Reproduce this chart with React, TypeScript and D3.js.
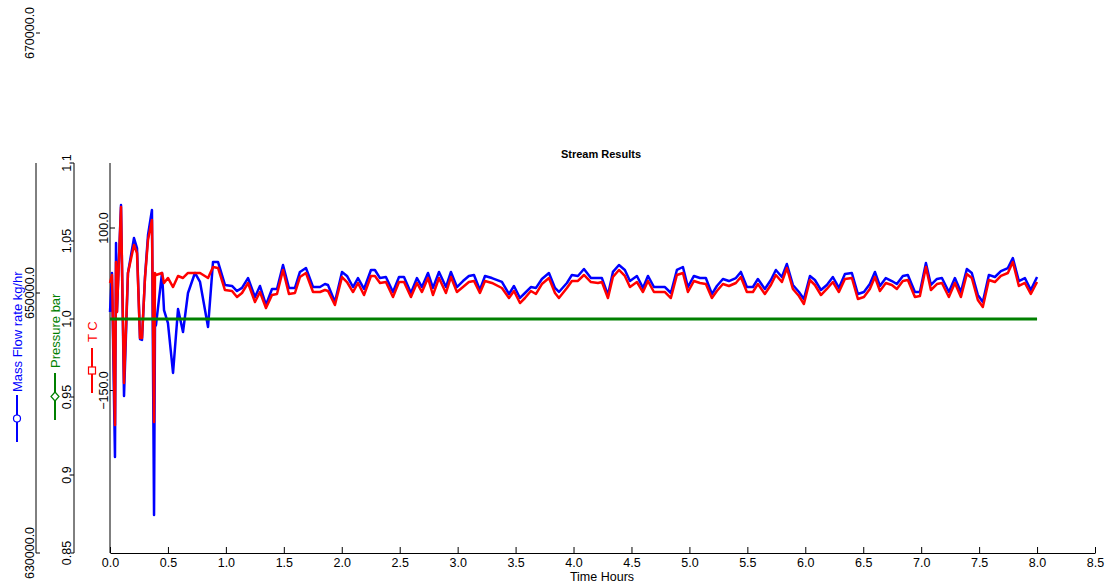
import React, { useEffect, useRef } from "react";
import * as d3 from "d3";

// time in hours
const times = [
  0, 0.017, 0.043, 0.052, 0.06, 0.095, 0.121, 0.155, 0.207, 0.233,
  0.259, 0.276, 0.302, 0.328, 0.362, 0.38, 0.388, 0.397, 0.449, 0.466,
  0.5, 0.544, 0.587, 0.63, 0.673, 0.733, 0.777, 0.846, 0.889, 0.932,
  0.992, 1.053, 1.096, 1.139, 1.191, 1.251, 1.294, 1.346, 1.398, 1.441,
  1.493, 1.544, 1.596, 1.639, 1.691, 1.752, 1.812, 1.855, 1.881, 1.941,
  2.002, 2.045, 2.097, 2.14, 2.192, 2.252, 2.286, 2.33, 2.381, 2.442,
  2.494, 2.537, 2.597, 2.649, 2.692, 2.744, 2.787, 2.839, 2.899, 2.942,
  2.994, 3.046, 3.097, 3.141, 3.192, 3.236, 3.296, 3.382, 3.443, 3.486,
  3.538, 3.581, 3.632, 3.676, 3.727, 3.788, 3.84, 3.874, 3.943, 3.986,
  4.038, 4.09, 4.15, 4.211, 4.245, 4.297, 4.34, 4.392, 4.443, 4.487,
  4.547, 4.599, 4.642, 4.694, 4.728, 4.789, 4.84, 4.892, 4.944, 4.987,
  5.039, 5.091, 5.142, 5.194, 5.237, 5.289, 5.341, 5.401, 5.444, 5.496,
  5.548, 5.591, 5.651, 5.703, 5.746, 5.798, 5.841, 5.893, 5.945, 5.988,
  6.04, 6.083, 6.135, 6.186, 6.238, 6.29, 6.342, 6.402, 6.454, 6.506,
  6.557, 6.601, 6.644, 6.695, 6.747, 6.79, 6.842, 6.885, 6.946, 6.989,
  7.041, 7.084, 7.136, 7.179, 7.239, 7.291, 7.343, 7.394, 7.437, 7.489,
  7.532, 7.584, 7.636, 7.688, 7.748, 7.791, 7.843, 7.895, 7.946, 8.0,
];

// Mass Flow rate kg/hr
const massFlow = [
  648540, 651540, 637390, 653850, 648540, 656770, 642080, 651540, 654230, 653460,
  646460, 646390, 651230, 654460, 656390, 632920, 647390, 647540, 651540, 648690,
  647690, 643850, 648770, 647000, 650000, 651540, 650850, 647390, 652390, 652390,
  650620, 650540, 650150, 650390, 651150, 649690, 650540, 649080, 650310, 650310,
  652150, 650390, 650390, 651620, 651920, 650460, 650460, 650690, 650620, 649310,
  651620, 651310, 650460, 651150, 650310, 651770, 651770, 651150, 651230, 650080,
  651230, 651230, 650000, 651150, 650460, 651540, 650390, 651620, 650460, 651620,
  650460, 650920, 651310, 651390, 650230, 651310, 651150, 650850, 649920, 650540,
  649620, 650000, 650460, 650390, 651080, 651540, 650390, 650080, 650770, 651390,
  651310, 651850, 651150, 651150, 651150, 649850, 651620, 652150, 651770, 650920,
  651310, 650390, 651310, 650460, 650460, 650460, 650000, 651770, 652000, 650460,
  651310, 651150, 651150, 649920, 650540, 651080, 650920, 651150, 651620, 650460,
  650460, 651080, 650310, 651000, 651770, 651230, 652230, 650620, 650080, 649540,
  651310, 651000, 650230, 650620, 651230, 650390, 651460, 651540, 649920, 650080,
  650690, 651620, 650540, 651150, 650920, 650690, 651310, 651390, 650080, 650080,
  652310, 650620, 651080, 651150, 650080, 651150, 650080, 651850, 651540, 649850,
  649310, 651390, 651230, 651690, 651920, 652690, 650920, 651150, 650230, 651230,
];

// T C
const tempC = [
  15.4, 27.7, -203.1, 47.7, -29.2, 132.3, -138.5, 30.8, 73.8, 61.5,
  -69.2, -69.2, 23.1, 81.5, 112.3, -198.5, 30.8, 27.7, 30.8, 15.4,
  23.1, 9.2, 26.2, 23.1, 30.8, 30.8, 30.8, 23.1, 40.0, 38.5,
  4.6, 3.1, -6.2, 0.0, 15.4, -13.8, 1.5, -23.1, -3.1, -1.5,
  35.4, -1.5, 0.0, 24.6, 30.8, 1.5, 1.5, 4.6, 3.1, -18.5,
  24.6, 16.9, 1.5, 15.4, -3.1, 26.2, 26.2, 15.4, 16.9, -6.2,
  16.9, 16.9, -6.2, 15.4, 1.5, 23.1, -3.1, 23.1, 0.0, 24.6,
  1.5, 9.2, 16.9, 18.5, 0.0, 18.5, 15.4, 7.7, -7.7, 3.1,
  -15.4, -7.7, 3.1, -1.5, 13.8, 23.1, 0.0, -7.7, 7.7, 18.5,
  18.5, 27.7, 16.9, 15.4, 16.9, -7.7, 24.6, 35.4, 26.2, 9.2,
  16.9, 1.5, 18.5, 1.5, 1.5, 1.5, -7.7, 27.7, 30.8, 1.5,
  18.5, 15.4, 13.8, -7.7, 3.1, 13.8, 10.8, 15.4, 24.6, 1.5,
  1.5, 13.8, -1.5, 12.3, 27.7, 16.9, 38.5, 6.2, -4.6, -16.9,
  20.0, 12.3, -3.1, 6.2, 16.9, 1.5, 21.5, 23.1, -9.2, -6.2,
  6.2, 24.6, 3.1, 15.4, 12.3, 6.2, 18.5, 20.0, -6.2, -4.6,
  40.0, 4.6, 13.8, 15.4, -6.2, 15.4, -6.2, 29.2, 23.1, -10.8,
  -21.5, 20.0, 16.9, 26.2, 30.8, 47.7, 10.8, 15.4, -1.5, 16.9,
];

// Pressure bar
const pressureTimes = [0, 8.0];
const pressure = [1.0, 1.0];

// tick labels
const xTicks = [0, 0.5, 1, 1.5, 2, 2.5, 3, 3.5, 4, 4.5, 5, 5.5, 6, 6.5, 7, 7.5, 8, 8.5];
const pressureTicks = [0.85, 0.9, 0.95, 1.0, 1.05, 1.1];
const massTicks = [630000, 650000, 670000];
const tempTicks = [-150, 100];

const FONT = "'Liberation Sans', Arial, sans-serif";
const BLUE = "#0000ff";
const RED = "#ff0000";
const GREEN = "#008000";

export default function App() {
  const ref = useRef<SVGSVGElement>(null);

  useEffect(() => {
    const svg = d3.select(ref.current);
    svg.selectAll("*").remove();

    const top = 163, bottom = 553, left = 110, right = 1095;
    const x = d3.scaleLinear().domain([0, 8.5]).range([left, right]);
    const yP = d3.scaleLinear().domain([0.85, 1.1]).range([bottom, top]);
    const yT = d3.scaleLinear().domain([-400, 200]).range([bottom, top]);
    const yM = d3.scaleLinear().domain([630000, 660000]).range([bottom, top]);

    // x axis
    const xAxis = svg
      .append("g")
      .attr("transform", `translate(0,${bottom})`)
      .call(
        d3.axisBottom(x)
          .tickValues(xTicks)
          .tickFormat(d3.format(".1f"))
          .tickSizeInner(-6)
          .tickSizeOuter(0)
          .tickPadding(5)
      );
    xAxis.attr("font-size", 12.5).attr("font-family", FONT);
    xAxis.selectAll("line,path").attr("stroke", "#000");
    xAxis.selectAll("text").attr("fill", "#000");

    svg
      .append("text")
      .attr("x", 602)
      .attr("y", 581)
      .attr("text-anchor", "middle")
      .attr("font-size", 12.5)
      .attr("font-family", FONT)
      .text("Time Hours");

    // left T axis on plot edge
    svg.append("line").attr("x1", left).attr("x2", left).attr("y1", top).attr("y2", bottom).attr("stroke", "#000");
    tempTicks.forEach((t) => {
      svg.append("line").attr("x1", left).attr("x2", left + 5).attr("y1", yT(t)).attr("y2", yT(t)).attr("stroke", "#000");
      svg
        .append("text")
        .attr("transform", `translate(104,${yT(t)}) rotate(-90)`)
        .attr("text-anchor", "middle")
        .attr("dominant-baseline", "central")
        .attr("font-size", 12.5)
        .attr("font-family", FONT)
        .text(d3.format(".1f")(t));
    });

    // pressure axis
    const px = 74;
    svg.append("line").attr("x1", px).attr("x2", px).attr("y1", top).attr("y2", bottom).attr("stroke", "#000");
    pressureTicks.forEach((p) => {
      svg.append("line").attr("x1", px - 3).attr("x2", px).attr("y1", yP(p)).attr("y2", yP(p)).attr("stroke", "#000");
      svg
        .append("text")
        .attr("transform", `translate(67,${yP(p)}) rotate(-90)`)
        .attr("text-anchor", "middle")
        .attr("dominant-baseline", "central")
        .attr("font-size", 12.5)
        .attr("font-family", FONT)
        .text(p === 1 ? "1.0" : String(p));
    });

    // mass flow axis
    const mx = 36;
    svg.append("line").attr("x1", mx).attr("x2", mx).attr("y1", top).attr("y2", bottom).attr("stroke", "#000");
    massTicks.forEach((m) => {
      svg.append("line").attr("x1", mx).attr("x2", mx + 4).attr("y1", yM(m)).attr("y2", yM(m)).attr("stroke", "#000");
      svg
        .append("text")
        .attr("transform", `translate(30,${yM(m)}) rotate(-90)`)
        .attr("text-anchor", "middle")
        .attr("dominant-baseline", "central")
        .attr("font-size", 12.5)
        .attr("font-family", FONT)
        .text(d3.format(".1f")(m));
    });

    // legend labels
    const legend = (cx: number, textY: number, y1: number, y2: number, color: string, label: string, marker: string) => {
      svg.append("line").attr("x1", cx).attr("x2", cx).attr("y1", y1).attr("y2", y2).attr("stroke", color).attr("stroke-width", 2);
      const my = (y1 + y2) / 2;
      if (marker === "circle") {
        svg.append("circle").attr("cx", cx).attr("cy", my).attr("r", 3.5).attr("fill", "#fff").attr("stroke", color).attr("stroke-width", 1.2);
      } else if (marker === "diamond") {
        svg.append("path").attr("d", `M${cx},${my - 4.5}L${cx + 4},${my}L${cx},${my + 4.5}L${cx - 4},${my}Z`).attr("fill", "#fff").attr("stroke", color).attr("stroke-width", 1.2);
      } else {
        svg.append("rect").attr("x", cx - 3.5).attr("y", my - 3.5).attr("width", 7).attr("height", 7).attr("fill", "#fff").attr("stroke", color).attr("stroke-width", 1.2);
      }
      svg
        .append("text")
        .attr("transform", `translate(${cx},${textY}) rotate(-90)`)
        .attr("text-anchor", "start")
        .attr("dominant-baseline", "central")
        .attr("font-size", 13)
        .attr("font-family", FONT)
        .attr("fill", color)
        .text(label);
    };
    legend(17, 392, 395, 442, BLUE, "Mass Flow rate kg/hr", "circle");
    legend(55, 368, 373, 420, GREEN, "Pressure bar", "diamond");
    legend(92, 342, 348, 393, RED, "T C", "square");

    // series
    const massLine = d3.line<number>().x((_, i) => x(times[i])).y((d) => yM(d));
    const tempLine = d3.line<number>().x((_, i) => x(times[i])).y((d) => yT(d));
    const presLine = d3.line<number>().x((_, i) => x(pressureTimes[i])).y((d) => yP(d));

    svg.append("path").datum(massFlow).attr("d", massLine).attr("fill", "none").attr("stroke", BLUE).attr("stroke-width", 2.5).attr("stroke-linejoin", "round");
    svg.append("path").datum(tempC).attr("d", tempLine).attr("fill", "none").attr("stroke", RED).attr("stroke-width", 2.5).attr("stroke-linejoin", "round");
    svg.append("path").datum(pressure).attr("d", presLine).attr("fill", "none").attr("stroke", GREEN).attr("stroke-width", 3);

    // title
    svg
      .append("text")
      .attr("x", 601)
      .attr("y", 158)
      .attr("text-anchor", "middle")
      .attr("font-size", 11)
      .attr("font-weight", "bold")
      .attr("font-family", FONT)
      .text("Stream Results");
  }, []);

  return (
    <svg
      ref={ref}
      width={1109}
      height={585}
      style={{ position: "absolute", left: 0, top: 0, background: "#fff" }}
    />
  );
}
